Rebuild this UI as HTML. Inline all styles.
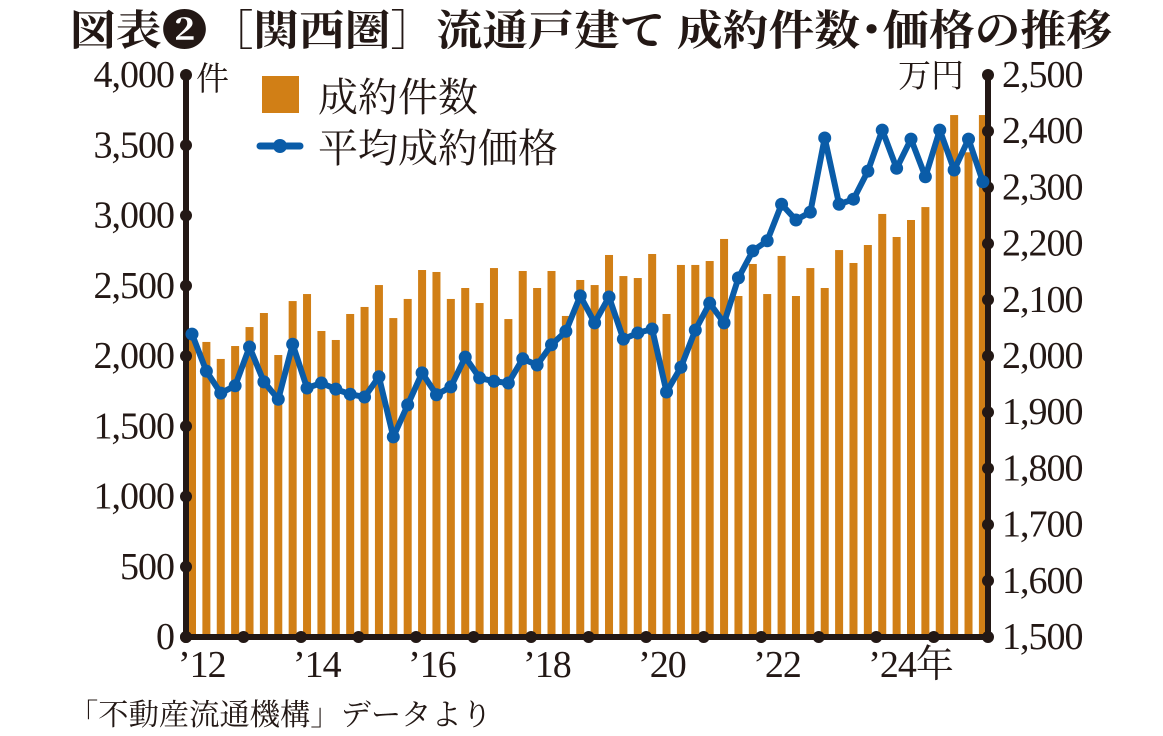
<!DOCTYPE html>
<html><head><meta charset="utf-8"><style>
html,body{margin:0;padding:0;background:#fff;}
svg{display:block}
</style></head><body>
<svg id="s" width="1163" height="736" xmlns="http://www.w3.org/2000/svg" font-family="'Liberation Serif','Noto Serif CJK JP',serif">
<text x="70" y="45" font-size="42" font-weight="bold" fill="#231815" textLength="1042" lengthAdjust="spacingAndGlyphs">図表❷［関西圏］流通戸建て 成約件数･価格の推移</text>
<g id="bars" fill="#D17F16"></g>
<g id="axes"></g>
<g id="line"></g>
<rect x="262" y="76" width="37" height="37" fill="#D17F16"/>
<text x="318" y="111" font-size="40" fill="#231815">成約件数</text>
<line x1="260" y1="146" x2="300" y2="146" stroke="#0A5CA8" stroke-width="7" stroke-linecap="round"/>
<circle cx="280" cy="146" r="7" fill="#0A5CA8"/>
<text x="318" y="162" font-size="40" fill="#231815">平均成約価格</text>
<text x="196" y="90" font-size="33" fill="#231815">件</text>
<text x="898" y="87" font-size="33" fill="#231815">万円</text>
<text x="68" y="725" font-size="30" fill="#231815" textLength="424" lengthAdjust="spacingAndGlyphs">「不動産流通機構」データより</text>
</svg>
<script>
var bars=[2150,2100,1979,2071,2206,2306,2007,2391,2441,2178,2114,2299,2349,2505,2270,2406,2612,2598,2406,2484,2377,2626,2263,2605,2484,2605,2285,2541,2505,2719,2569,2555,2726,2299,2648,2648,2676,2833,2427,2655,2441,2712,2427,2626,2484,2754,2662,2790,3011,2847,2968,3060,3622,3715,3450,3715];
var line=[2039,1973,1934,1947,2016,1954,1923,2021,1943,1952,1941,1932,1927,1963,1856,1913,1970,1931,1945,1998,1961,1955,1952,1995,1984,2020,2044,2107,2059,2105,2030,2041,2048,1936,1980,2046,2094,2059,2139,2187,2205,2270,2242,2256,2388,2270,2279,2329,2402,2334,2386,2319,2402,2331,2386,2310];
var ns="http://www.w3.org/2000/svg";
function el(t,a,p){var e=document.createElementNS(ns,t);for(var k in a)e.setAttribute(k,a[k]);if(p)p.appendChild(e);return e;}
var Y0=637,H=562;
var gb=document.getElementById('bars');
bars.forEach(function(v,i){var cx=192+14.38*i;var h=v/4000*H;el('rect',{x:cx-4,y:Y0-h,width:8,height:h},gb);});
var ga=document.getElementById('axes');
el('line',{x1:186,y1:70,x2:186,y2:640,stroke:'#231815','stroke-width':6},ga);
el('line',{x1:988,y1:70,x2:988,y2:640,stroke:'#231815','stroke-width':6},ga);
el('line',{x1:184,y1:637,x2:990,y2:637,stroke:'#231815','stroke-width':6},ga);
var lv=['0','500','1,000','1,500','2,000','2,500','3,000','3,500','4,000'];
for(var k=0;k<=8;k++){var y=Y0-k*H/8;el('circle',{cx:186,cy:y,r:6,fill:'#231815'},ga);
var t=el('text',{x:174,y:y+12,'font-size':38,'text-anchor':'end','letter-spacing':-1,fill:'#231815'},ga);t.textContent=lv[k];}
for(var k=0;k<=10;k++){var y=Y0-k*H/10;el('circle',{cx:988,cy:y,r:6,fill:'#231815'},ga);
var t=el('text',{x:1002,y:y+12,'font-size':38,'letter-spacing':-1,fill:'#231815'},ga);t.textContent=(1500+k*100).toLocaleString('en-US');}
for(var k=0;k<14;k++){var x=186+57.52*k;el('circle',{cx:x,cy:637,r:6,fill:'#231815'},ga);}
var yl=["’12","’14","’16","’18","’20","’22","’24年"];
for(var k=0;k<7;k++){var t=el('text',{x:178+115.04*k,y:677,'font-size':38,'letter-spacing':-1,fill:'#231815'},ga);t.textContent=yl[k];}
var gl=document.getElementById('line');var pts=[];
line.forEach(function(v,i){var cx=192+14.38*i;var y=Y0-(v-1500)/1000*H;pts.push(cx+','+y);});
el('polyline',{points:pts.join(' '),fill:'none',stroke:'#0A5CA8','stroke-width':6,'stroke-linejoin':'round'},gl);
pts.forEach(function(p){var a=p.split(',');el('circle',{cx:a[0],cy:a[1],r:6.5,fill:'#0A5CA8'},gl);});
</script>
</body></html>
